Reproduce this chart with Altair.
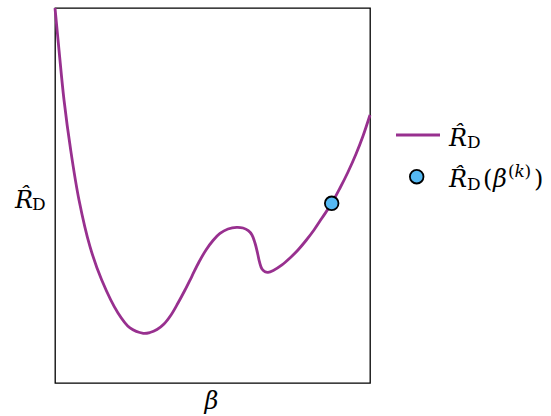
import altair as alt
import pandas as pd

# curve values (normalized beta, normalized risk)
beta = [0.0, 0.0127, 0.0286, 0.0498, 0.0762, 0.1111, 0.1483, 0.2, 0.2381, 0.2803,
        0.3016, 0.3238, 0.346, 0.3683, 0.3905, 0.4127, 0.4349, 0.4571, 0.4794, 0.5016,
        0.5238, 0.5492, 0.5768, 0.5968, 0.6137, 0.6254, 0.6349, 0.6429, 0.6492, 0.6571,
        0.6667, 0.6762, 0.693, 0.7206, 0.746, 0.7714, 0.7968, 0.8222, 0.8476, 0.8784,
        0.9048, 0.9302, 0.9556, 0.9778, 1.0]
risk = [1.0, 0.888, 0.7547, 0.6213, 0.488, 0.3635, 0.2747, 0.1867, 0.1467, 0.1325,
        0.1347, 0.1427, 0.1573, 0.1813, 0.2133, 0.248, 0.2853, 0.3227, 0.3547, 0.38,
        0.3987, 0.4107, 0.4152, 0.4133, 0.4061, 0.3947, 0.3733, 0.3467, 0.3227, 0.304,
        0.2968, 0.2952, 0.3, 0.3147, 0.3333, 0.3547, 0.38, 0.408, 0.44, 0.4792,
        0.52, 0.5627, 0.6107, 0.6587, 0.7147]
point_beta = [0.8784]
point_risk = [0.4792]

LINE = "#98308F"
DOT = "#55B9F3"
FONT = "DejaVu Serif"

curve = pd.DataFrame({"beta": beta, "risk": risk})
pt = pd.DataFrame({"beta": point_beta, "risk": point_risk})
one = pd.DataFrame({"k": [0]})

xs = alt.X("beta:Q", scale=alt.Scale(domain=[0, 1], nice=False, zero=False), axis=None)
ys = alt.Y("risk:Q", scale=alt.Scale(domain=[0, 1], nice=False, zero=False), axis=None)

line = alt.Chart(curve).mark_line(color=LINE, strokeWidth=2.8, interpolate="catmull-rom").encode(x=xs, y=ys)
dot = alt.Chart(pt).mark_point(filled=True, fill=DOT, stroke="black", strokeWidth=1.8,
                               size=185, opacity=1, fillOpacity=1, shape="circle").encode(x=xs, y=ys)


def txt(s, x, y, size, italic=False, align="left"):
    kw = dict(text=s, font=FONT, fontSize=size, align=align, baseline="alphabetic", color="black")
    if italic:
        kw["fontStyle"] = "italic"
    return alt.Chart(one).mark_text(**kw).encode(x=alt.value(x), y=alt.value(y))


leg_line = alt.Chart(one).mark_rule(color=LINE, strokeWidth=2.8).encode(
    x=alt.value(341), x2=alt.value(385), y=alt.value(127))
leg_dot = alt.Chart(one).mark_point(filled=True, fill=DOT, stroke="black", strokeWidth=1.8,
                                    size=185, opacity=1, shape="circle").encode(
    x=alt.value(361.7), y=alt.value(168.7))

RHAT = "R\u0302"
texts = [
    # legend row 1
    txt(RHAT, 394, 137.5, 24, italic=True),
    txt("D", 412, 140, 17),
    # legend row 2
    txt(RHAT, 394, 179, 24, italic=True),
    txt("D", 412, 182, 17),
    txt("(", 428, 179, 24),
    txt("\u03b2", 438, 179, 24, italic=True),
    txt("(", 453, 169, 17),
    txt("k", 459.5, 169, 17, italic=True),
    txt(")", 469.5, 169, 17),
    txt(")", 479, 179, 24),
    # y label
    txt(RHAT, -40, 199.7, 24, italic=True),
    txt("D", -23, 202, 17),
    # x label
    txt("\u03b2", 156.5, 401, 24, italic=True, align="center"),
]

chart = alt.layer(line, dot, leg_line, leg_dot, *texts).properties(
    width=315, height=375,
    background="white",
    autosize=alt.AutoSizeParams(type="none"),
    padding={"left": 55, "top": 8, "right": 181, "bottom": 33},
).configure_view(stroke="black", strokeWidth=1.3)

chart.save("out.html", embed_options={"renderer": "svg", "actions": False})
